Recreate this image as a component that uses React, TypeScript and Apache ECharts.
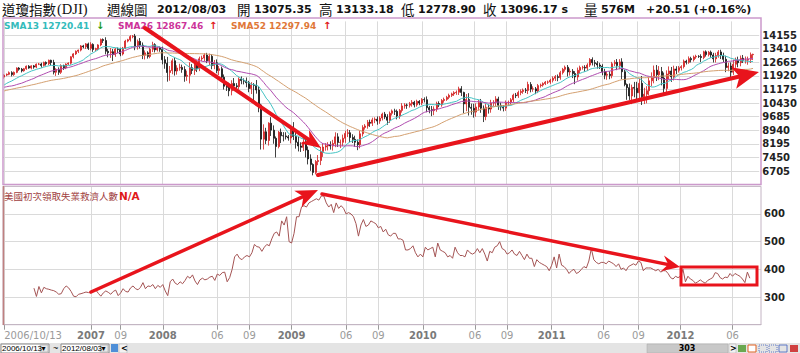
import React, { useEffect, useRef } from 'react';
import * as echarts from 'echarts';

// ---- weekly DJI closes (52 weeks before the window, used only for the moving averages)
const preCloses = [10215, 10403, 10531, 10686, 10766, 10932, 10878, 10779, 10876, 10884, 10718,
  10960, 10960, 10668, 10907, 10794, 10920, 11116, 11062, 11022, 11077, 11280, 11280, 11109,
  11120, 11138, 11347, 11367, 11578, 11380, 11144, 11278, 11247, 10891, 11015, 10990, 11150,
  11090, 10739, 10868, 11185, 11240, 11088, 11381, 11284, 11464, 11393, 11560, 11508, 11679, 11850];

const closes2006 = [11960, 12002, 12090, 11986, 12108, 12342, 12280, 12194, 12307, 12445, 12343, 12463];
const closes2007 = [12398, 12556, 12565, 12487, 12653, 12581, 12768, 12647, 12114, 12276, 12111, 12481, 12354,
  12561, 12612, 12962, 13121, 13265, 13327, 13556, 13507, 13668, 13425, 13639, 13360, 13409,
  13611, 13908, 13851, 13266, 13182, 13239, 13079, 13379, 13358, 13114, 13442, 13821, 13896,
  14066, 14093, 13522, 13807, 13595, 13043, 13177, 12981, 13372, 13625, 13339, 13451, 13366];
const closes2008 = [12800, 12606, 12099, 12207, 12743, 12182, 12348, 12381, 12266, 11894, 11951, 12361, 12216,
  12609, 12325, 12849, 12891, 13058, 12745, 12986, 12480, 12638, 12209, 12307, 11843, 11346,
  11289, 11100, 11496, 11370, 11326, 11734, 11659, 11628, 11543, 11220, 11421, 11388, 11143,
  10325, 8451, 8852, 8378, 9325, 8943, 8497, 8046, 8829, 8635, 8629, 8579, 8515];
const closes2009 = [9034, 8599, 8281, 8077, 8000, 8280, 7850, 7366, 7063, 6627, 7224, 7279, 7776,
  8018, 8083, 8131, 8076, 8212, 8575, 8268, 8278, 8500, 8764, 8799, 8539, 8438,
  8280, 8146, 8743, 9093, 9172, 9370, 9321, 9505, 9544, 9441, 9605, 9820, 9665,
  9488, 9865, 9996, 9972, 9713, 10023, 10270, 10318, 10310, 10388, 10471, 10329, 10520, 10428];
const closes2010 = [10618, 10609, 10173, 10067, 10012, 10099, 10402, 10325, 10567, 10625, 10742, 10851,
  10927, 10997, 11019, 11204, 11009, 10380, 10620, 10193, 10137, 9931, 10212, 10450, 10144,
  9686, 10198, 10098, 10424, 10466, 10654, 10303, 10213, 10150, 10448, 10462, 10608, 10860,
  10829, 11006, 11063, 11133, 11118, 11445, 11193, 11204, 11092, 11382, 11411, 11492, 11573, 11578];
const closes2011 = [11675, 11787, 11872, 11824, 12092, 12273, 12391, 12130, 12170, 12044, 11859, 12221,
  12377, 12380, 12342, 12506, 12811, 12638, 12596, 12512, 12442, 12151, 11952, 12004, 11934,
  12582, 12657, 12480, 12681, 12143, 11445, 11269, 10818, 11285, 11240, 10992, 11509, 10771, 10913,
  11103, 11644, 11808, 12231, 11983, 12153, 11796, 11231, 12019, 12184, 11866, 12294, 12218];
const closes2012 = [12360, 12422, 12720, 12660, 12862, 12801, 12950, 12983, 12978, 12922, 13233, 13081, 13212,
  13060, 12850, 13029, 13228, 13038, 12821, 12369, 12455, 12119, 12554, 12767, 12640, 12880,
  12772, 12777, 12822, 13076, 13096];

// ---- weekly upper / lower shadow lengths (points above max(open,close) / below min(open,close))
const upWick2006 = [60, 45, 70, 80, 50, 40, 55, 70, 45, 40, 60, 35];
const dnWick2006 = [90, 60, 50, 100, 70, 45, 80, 90, 50, 60, 40, 70];
const upWick2007 = [50, 40, 60, 70, 45, 55, 40, 35, 150, 60, 110, 70, 50, 40, 45, 30, 40, 45, 30, 50,
  60, 45, 70, 120, 60, 50, 40, 55, 60, 180, 130, 200, 150, 60, 90, 100, 60, 70, 50, 80,
  60, 120, 100, 180, 150, 130, 90, 70, 160, 80, 60, 70];
const dnWick2007 = [90, 60, 50, 120, 60, 100, 80, 150, 120, 200, 140, 90, 110, 70, 60, 80, 90, 60, 100, 70,
  80, 120, 90, 110, 130, 100, 80, 70, 130, 170, 250, 280, 350, 120, 190, 120, 80, 60, 70, 100,
  90, 200, 170, 180, 210, 230, 120, 100, 150, 140, 90, 130];
const upWick2008 = [150, 200, 350, 250, 120, 180, 150, 200, 150, 180, 250, 300, 200, 180, 150, 120, 130, 100, 120, 150,
  120, 150, 180, 150, 120, 150, 200, 250, 180, 300, 150, 100, 150, 120, 200, 100, 150, 100, 300, 200,
  60, 410, 220, 50, 330, 260, 100, 70, 200, 200, 200, 100];
const dnWick2008 = [250, 300, 500, 450, 200, 250, 200, 150, 180, 300, 250, 450, 200, 250, 200, 150, 120, 180, 130, 250,
  200, 200, 150, 250, 200, 180, 200, 300, 250, 250, 200, 150, 200, 180, 250, 200, 300, 950, 200, 400,
  570, 570, 200, 280, 320, 300, 600, 100, 400, 300, 150, 150];
const upWick2009 = [200, 350, 250, 300, 200, 300, 250, 200, 250, 60, 80, 300, 250, 200, 150, 150, 200, 200, 250, 200,
  150, 200, 150, 200, 150, 180, 200, 150, 150, 120, 100, 130, 150, 120, 100, 150, 100, 80, 120, 150,
  100, 80, 120, 100, 80, 150, 100, 80, 100, 120, 80, 90, 70];
const dnWick2009 = [300, 200, 350, 300, 250, 200, 400, 300, 350, 160, 110, 200, 250, 300, 200, 250, 200, 250, 200, 250,
  300, 200, 250, 200, 250, 200, 250, 300, 200, 150, 120, 150, 200, 150, 180, 200, 150, 130, 120, 250,
  150, 120, 200, 180, 150, 120, 150, 200, 130, 160, 140, 100, 120];
const upWick2010 = [80, 120, 180, 100, 200, 150, 100, 120, 80, 100, 80, 90, 70, 80, 100, 120, 150, 40, 300, 350,
  200, 250, 200, 150, 200, 150, 200, 150, 180, 120, 150, 120, 150, 100, 120, 100, 90, 80, 120, 100,
  110, 90, 120, 150, 130, 140, 100, 90, 80, 70, 60, 80];
const dnWick2010 = [120, 150, 250, 200, 300, 250, 150, 120, 100, 120, 80, 100, 90, 110, 120, 150, 200, 510, 400, 450,
  350, 300, 250, 200, 250, 300, 200, 250, 200, 180, 200, 250, 200, 180, 150, 180, 120, 150, 130, 120,
  150, 130, 140, 200, 180, 150, 180, 120, 110, 90, 80, 100];
const upWick2011 = [80, 100, 90, 120, 100, 80, 90, 120, 150, 120, 130, 150, 100, 90, 120, 100, 80, 120, 150, 130,
  120, 110, 150, 180, 160, 100, 120, 180, 150, 200, 100, 55, 230, 150, 300, 350, 250, 400, 350, 250,
  200, 300, 250, 280, 300, 250, 300, 200, 250, 220, 180, 150];
const dnWick2011 = [100, 120, 150, 200, 120, 100, 120, 250, 200, 250, 400, 200, 150, 120, 200, 150, 100, 150, 180, 200,
  150, 200, 220, 250, 200, 150, 130, 250, 200, 400, 100, 665, 220, 450, 500, 400, 350, 450, 400, 500,
  250, 300, 300, 350, 300, 400, 350, 250, 300, 280, 200, 200];
const upWick2012 = [100, 80, 90, 80, 120, 100, 80, 90, 70, 120, 60, 80, 70, 90, 120, 150, 100, 120, 150, 200,
  180, 200, 250, 150, 200, 150, 180, 200, 150, 120, 37];
const dnWick2012 = [120, 150, 100, 120, 80, 150, 100, 100, 80, 250, 90, 110, 100, 150, 200, 200, 120, 200, 150, 250,
  200, 300, 150, 200, 250, 200, 150, 180, 250, 200, 296];

// ---- US initial jobless claims (thousands), weekly; no data before 2007/01/05
const claims2007 = [332, 302, 338, 315, 335, 330, 328, 325, 323, 318, 310, 312, 330, 340, 333, 320, 303,
  301, 310, 312, 315, 318, 316, 315, 320, 325, 313, 303, 315, 322, 317, 310, 320, 325, 305,
  315, 330, 320, 318, 333, 340, 330, 326, 335, 352, 330, 340, 338, 345, 330, 342, 335];
const claims2008 = [345, 322, 305, 355, 365, 350, 345, 355, 348, 360, 375, 368, 380, 358, 345, 362, 368,
  362, 365, 372, 375, 360, 383, 378, 388, 390, 355, 370, 400, 445, 455, 440, 435, 445, 450,
  445, 460, 490, 482, 480, 465, 480, 490, 485, 510, 530, 535, 520, 575, 560, 590, 500];
const claims2009 = [495, 530, 590, 590, 625, 630, 625, 640, 645, 650, 655, 650, 665, 665, 640, 625, 635,
  605, 640, 620, 630, 620, 600, 605, 600, 590, 565, 520, 560, 580, 555, 560, 575, 570, 565,
  550, 555, 535, 545, 525, 520, 530, 530, 510, 510, 505, 470, 470, 475, 485, 460, 445, 455];
const claims2010 = [445, 480, 470, 475, 480, 445, 495, 470, 465, 460, 445, 450, 440, 480, 460, 450, 450,
  445, 470, 460, 455, 460, 475, 460, 475, 455, 430, 465, 460, 480, 485, 500, 475, 470,
  455, 460, 470, 455, 450, 465, 450, 435, 455, 440, 440, 410, 435, 425, 420, 415, 410, 395];
const claims2011 = [415, 445, 405, 455, 415, 410, 400, 385, 395, 400, 385, 390, 400, 410, 405, 430, 475,
  435, 425, 420, 425, 425, 420, 430, 425, 420, 410, 420, 400, 405, 395, 410, 415, 420,
  415, 430, 425, 395, 405, 405, 405, 400, 395, 400, 390, 395, 395, 385, 370, 365, 375, 370];
const claims2012 = [375, 400, 355, 375, 365, 360, 350, 355, 362, 355, 350, 360, 365, 370, 388, 385, 370,
  365, 372, 370, 385, 375, 385, 380, 375, 365, 352, 390, 368, null, null];

// ---- x-axis tick labels (week index -> text)
const tickIndex = [0, 35, 47, 64, 86, 99, 116, 138, 151, 169, 190, 203, 221, 242, 256, 273, 294];
const tickText = ['2006/10/13', '2007', '09', '2008', '06', '09', '2009', '06', '09', '2010', '06', '09', '2011', '06', '09', '2012', '06'];

// ---- header segments
const headerCJK = ['道瓊指數', '週線圖', '開', '高', '低', '收', '量'];
const headerNums = ['2012/08/03', '13075.35', '13133.18', '12778.90', '13096.17 s', '576M', '+20.51 (+0.16%)'];

const RED = '#e8141c';

function arrow(x1: number, y1: number, x2: number, y2: number, head: number, half: number, w: number) {
  const dx = x2 - x1, dy = y2 - y1;
  const L = Math.hypot(dx, dy);
  const ux = dx / L, uy = dy / L;
  const bx = x2 - ux * head, by = y2 - uy * head;
  const px = -uy, py = ux;
  return [
    { type: 'line', z: 100, silent: true, shape: { x1, y1, x2: bx + ux * 3, y2: by + uy * 3 }, style: { stroke: RED, lineWidth: w, lineCap: 'round' } },
    {
      type: 'polygon', z: 100, silent: true,
      shape: { points: [[x2, y2], [bx + px * half - ux * 2, by + py * half - uy * 2], [bx + ux * 4, by + uy * 4], [bx - px * half - ux * 2, by - py * half - uy * 2]] },
      style: { fill: RED },
    },
  ];
}

export default function App() {
  const ref = useRef<HTMLDivElement>(null);
  useEffect(() => {
    document.body.style.margin = '0';
    const chart = echarts.init(ref.current as HTMLDivElement, undefined, { renderer: 'svg' });

    const closes = [...closes2006, ...closes2007, ...closes2008, ...closes2009, ...closes2010, ...closes2011, ...closes2012];
    const up = [...upWick2006, ...upWick2007, ...upWick2008, ...upWick2009, ...upWick2010, ...upWick2011, ...upWick2012];
    const dn = [...dnWick2006, ...dnWick2007, ...dnWick2008, ...dnWick2009, ...dnWick2010, ...dnWick2011, ...dnWick2012];
    const claims: (number | null)[] = [...new Array(12).fill(null), ...claims2007, ...claims2008, ...claims2009, ...claims2010, ...claims2011, ...claims2012];
    const N = closes.length;
    const EXTRA = 2;

    const cats: string[] = [];
    const t0 = Date.UTC(2006, 9, 13);
    for (let i = 0; i < N; i++) {
      const d = new Date(t0 + i * 7 * 86400000);
      cats.push(`${d.getUTCFullYear()}/${String(d.getUTCMonth() + 1).padStart(2, '0')}/${String(d.getUTCDate()).padStart(2, '0')}`);
    }
    for (let k = 0; k < EXTRA; k++) cats.push(' '.repeat(k + 1));

    const prevLast = preCloses[preCloses.length - 1];
    const candles: any[] = closes.map((c, i) => {
      const o = i === 0 ? prevLast : closes[i - 1];
      const hi = Math.max(o, c) + (up[i] ?? 80);
      const lo = Math.min(o, c) - (dn[i] ?? 80);
      return [o, c, lo, hi];
    });
    for (let k = 0; k < EXTRA; k++) candles.push('-');

    const full = [...preCloses, ...closes];
    const sma = (n: number) => {
      const out: (number | null)[] = [];
      for (let i = 0; i < N; i++) {
        const j = i + preCloses.length;
        let s = 0;
        for (let k = j - n + 1; k <= j; k++) s += full[k];
        out.push(+(s / n).toFixed(2));
      }
      for (let k = 0; k < EXTRA; k++) out.push(null);
      return out;
    };
    while (claims.length < N + EXTRA) claims.push(null);

    const tickSet = new Set(tickIndex);
    const intervalFn = (index: number) => tickSet.has(index);
    const labelFmt = (_v: string, index: number) => {
      const k = tickIndex.indexOf(index);
      if (k < 0) return '';
      const t = tickText[k];
      return /^\d{4}$/.test(t) ? `{y|${t}}` : t;
    };

    const G0 = { left: 3, top: 21.4, width: 758, height: 163.2 };
    const G1 = { left: 3, top: 186.3, width: 758, height: 138.4 };

    const txt = (x: number, y: number, text: string, fill: string, fontSize: number, fontFamily: string, fontWeight: any = 'normal') => ({
      type: 'text', x, y, z: 90, silent: true,
      style: { text, fill, fontSize, fontFamily, fontWeight, verticalAlign: 'middle', align: 'left' },
    });

    const HY = 9;
    const cj = (x: number, s: string) => txt(x, HY, s, '#111', 13.5, 'Noto Sans CJK TC');
    const nb = (x: number, s: string) => txt(x, HY + 0.5, s, '#111', 11, 'DejaVu Sans', 'bold');

    const graphic: any[] = [
      // panel borders
      { type: 'rect', z: 60, silent: true, shape: { x: 3, y: 18, width: 758, height: 166.5 }, style: { fill: 'none', stroke: '#cc99cc', lineWidth: 1.5 } },
      { type: 'rect', z: 60, silent: true, shape: { x: 3, y: 186.3, width: 758, height: 138.4 }, style: { fill: 'none', stroke: '#c4b4c4', lineWidth: 1 } },
      { type: 'line', z: 61, silent: true, shape: { x1: 3.5, y1: 186, x2: 3.5, y2: 325 }, style: { stroke: '#c08080', lineWidth: 1.5 } },
      // header
      cj(2, headerCJK[0]),
      txt(57, HY, '(DJI)', '#111', 14.5, 'Liberation Serif'),
      cj(107, headerCJK[1]),
      nb(157, headerNums[0]),
      cj(237, headerCJK[2]),
      nb(254, headerNums[1]),
      cj(319, headerCJK[3]),
      nb(336, headerNums[2]),
      cj(401, headerCJK[4]),
      nb(418, headerNums[3]),
      cj(483, headerCJK[5]),
      nb(500, headerNums[4]),
      cj(584, headerCJK[6]),
      nb(601, headerNums[5]),
      nb(646, headerNums[6]),
      // SMA legend
      txt(4, 25.5, 'SMA13 12720.41', '#33bbbb', 9, 'DejaVu Sans', 'bold'),
      txt(96, 25.5, '↓', '#1a9a1a', 10, 'DejaVu Sans', 'bold'),
      txt(118, 25.5, 'SMA26 12867.46', '#cc3399', 9, 'DejaVu Sans', 'bold'),
      txt(209, 25.5, '↑', '#e01818', 10, 'DejaVu Sans', 'bold'),
      txt(231, 25.5, 'SMA52 12297.94', '#e07838', 9, 'DejaVu Sans', 'bold'),
      txt(323, 25.5, '↑', '#e01818', 10, 'DejaVu Sans', 'bold'),
      // lower panel title
      txt(4, 195.5, '美國初次領取失業救濟人數', '#a04040', 9.5, 'Noto Sans CJK TC'),
      txt(119, 195.5, 'N/A', '#e01818', 10.5, 'DejaVu Sans', 'bold'),
      // annotations
      ...arrow(145, 28, 321, 148, 18, 8, 4),
      ...arrow(318, 175, 759, 72, 24, 11, 4),
      ...arrow(91, 292, 318, 190, 20, 9, 3.5),
      ...arrow(322, 194, 680, 267, 16, 8, 3.5),
      { type: 'rect', z: 100, silent: true, shape: { x: 681, y: 267, width: 76, height: 18 }, style: { fill: 'none', stroke: RED, lineWidth: 3 } },
      // bottom toolbar
      { type: 'rect', z: 70, silent: true, shape: { x: 0, y: 343, width: 800, height: 10 }, style: { fill: '#e4e4e4' } },
      { type: 'rect', z: 71, silent: true, shape: { x: 1, y: 344, width: 48, height: 9 }, style: { fill: '#fff', stroke: '#8a8a8a', lineWidth: 1 } },
      { type: 'rect', z: 72, silent: true, shape: { x: 40, y: 345, width: 8, height: 7 }, style: { fill: '#e8e8e8', stroke: '#999', lineWidth: 0.5 } },
      txt(2, 348.5, '2006/10/13', '#000', 8, 'Liberation Sans'),
      txt(41.5, 348.5, '▾', '#000', 8, 'DejaVu Sans'),
      txt(53, 348, '~', '#000', 9, 'Liberation Sans'),
      { type: 'rect', z: 71, silent: true, shape: { x: 61, y: 344, width: 48, height: 9 }, style: { fill: '#fff', stroke: '#8a8a8a', lineWidth: 1 } },
      { type: 'rect', z: 72, silent: true, shape: { x: 100, y: 345, width: 8, height: 7 }, style: { fill: '#e8e8e8', stroke: '#999', lineWidth: 0.5 } },
      txt(62, 348.5, '2012/08/03', '#000', 8, 'Liberation Sans'),
      txt(101.5, 348.5, '▾', '#000', 8, 'DejaVu Sans'),
      { type: 'rect', z: 72, silent: true, shape: { x: 111, y: 344, width: 7, height: 8 }, style: { fill: '#4f8fd8' } },
      { type: 'rect', z: 72, silent: true, shape: { x: 119, y: 344, width: 8, height: 9 }, style: { fill: '#f2f2f2', stroke: '#aaa', lineWidth: 0.5 } },
      txt(121, 348.5, '<', '#000', 8, 'DejaVu Sans', 'bold'),
      { type: 'rect', z: 71, silent: true, shape: { x: 647, y: 344, width: 81, height: 9 }, style: { fill: '#c8c8c8', stroke: '#a8a8a8', lineWidth: 0.5 } },
      { type: 'text', x: 687, y: 348.5, z: 90, silent: true, style: { text: '303', fill: '#000', fontSize: 8, fontFamily: 'DejaVu Sans', fontWeight: 'bold', align: 'center', verticalAlign: 'middle' } },
      { type: 'rect', z: 72, silent: true, shape: { x: 729, y: 344, width: 7, height: 9 }, style: { fill: '#f2f2f2', stroke: '#aaa', lineWidth: 0.5 } },
      txt(730, 348.5, '>', '#000', 8, 'DejaVu Sans', 'bold'),
      { type: 'rect', z: 72, silent: true, shape: { x: 738, y: 345, width: 8, height: 7 }, style: { fill: '#6aa84f' } },
      { type: 'rect', z: 72, silent: true, shape: { x: 748, y: 345, width: 8, height: 7 }, style: { fill: '#fff', stroke: '#e06020', lineWidth: 1 } },
      { type: 'rect', z: 72, silent: true, shape: { x: 759, y: 345, width: 8, height: 7 }, style: { fill: 'none', stroke: '#4060c0', lineWidth: 0.8, lineDash: [1, 1] } },
      { type: 'rect', z: 72, silent: true, shape: { x: 769, y: 345, width: 8, height: 7 }, style: { fill: 'none', stroke: '#4060c0', lineWidth: 0.8, lineDash: [1, 1] } },
      { type: 'rect', z: 72, silent: true, shape: { x: 779, y: 345, width: 8, height: 7 }, style: { fill: 'none', stroke: '#4060c0', lineWidth: 0.8 } },
      { type: 'rect', z: 72, silent: true, shape: { x: 790, y: 345, width: 8, height: 7 }, style: { fill: '#d04040' } },
    ];

    const splitColor = '#dadada';
    const plain = (v: number) => String(v);

    chart.setOption({
      animation: false,
      backgroundColor: '#ffffff',
      grid: [G0, G1],
      xAxis: [
        {
          type: 'category', gridIndex: 0, data: cats, boundaryGap: true,
          axisLine: { show: false }, axisTick: { show: false }, axisLabel: { show: false },
          splitLine: { show: true, interval: intervalFn, alignWithLabel: true, lineStyle: { color: splitColor, width: 1 } },
        },
        {
          type: 'category', gridIndex: 1, data: cats, boundaryGap: true,
          axisLine: { show: true, lineStyle: { color: '#bdbdbd' } },
          axisTick: { show: true, interval: intervalFn, alignWithLabel: true, length: 5, lineStyle: { color: '#9a9a9a' } },
          axisLabel: {
            interval: intervalFn, formatter: labelFmt, color: '#9a9a9a', fontSize: 10, fontFamily: 'DejaVu Sans', margin: 6,
            alignMinLabel: 'left',
            rich: { y: { fontWeight: 'bold', color: '#7a7a7a', fontSize: 10, fontFamily: 'DejaVu Sans' } },
          },
          splitLine: { show: true, interval: intervalFn, alignWithLabel: true, lineStyle: { color: splitColor, width: 1 } },
        },
      ],
      yAxis: [
        {
          type: 'value', gridIndex: 0, position: 'right', min: 5960, max: 14900, interval: 745,
          axisLine: { show: false }, axisTick: { show: false },
          axisLabel: { formatter: plain, color: '#222', fontWeight: 'bold', fontSize: 10, fontFamily: 'DejaVu Sans', margin: 3, showMinLabel: false, showMaxLabel: false },
          splitLine: { show: true, showMaxLine: false, lineStyle: { color: splitColor } },
        },
        {
          type: 'value', gridIndex: 1, position: 'right', min: 200, max: 700, interval: 100,
          axisLine: { show: false }, axisTick: { show: false },
          axisLabel: { formatter: plain, color: '#222', fontWeight: 'bold', fontSize: 10, fontFamily: 'DejaVu Sans', margin: 3, showMinLabel: false, showMaxLabel: false },
          splitLine: { show: true, lineStyle: { color: splitColor } },
        },
      ],
      series: [
        {
          type: 'candlestick', xAxisIndex: 0, yAxisIndex: 0, data: candles, barWidth: 1.5,
          itemStyle: { color: '#e8343a', color0: '#111111', borderColor: '#d01c1c', borderColor0: '#111111', borderWidth: 0.8 },
        },
        { type: 'line', xAxisIndex: 0, yAxisIndex: 0, data: sma(13), showSymbol: false, symbol: 'none', lineStyle: { color: '#45c4c4', width: 1 } },
        { type: 'line', xAxisIndex: 0, yAxisIndex: 0, data: sma(26), showSymbol: false, symbol: 'none', lineStyle: { color: '#b04cb0', width: 1 } },
        { type: 'line', xAxisIndex: 0, yAxisIndex: 0, data: sma(52), showSymbol: false, symbol: 'none', lineStyle: { color: '#d4a070', width: 1 } },
        { type: 'line', xAxisIndex: 1, yAxisIndex: 1, data: claims, showSymbol: false, symbol: 'none', connectNulls: false, lineStyle: { color: '#a45454', width: 1 } },
      ],
      graphic,
    });

    return () => chart.dispose();
  }, []);

  return <div ref={ref} style={{ position: 'absolute', left: 0, top: 0, width: 800, height: 353, background: '#fff' }} />;
}
